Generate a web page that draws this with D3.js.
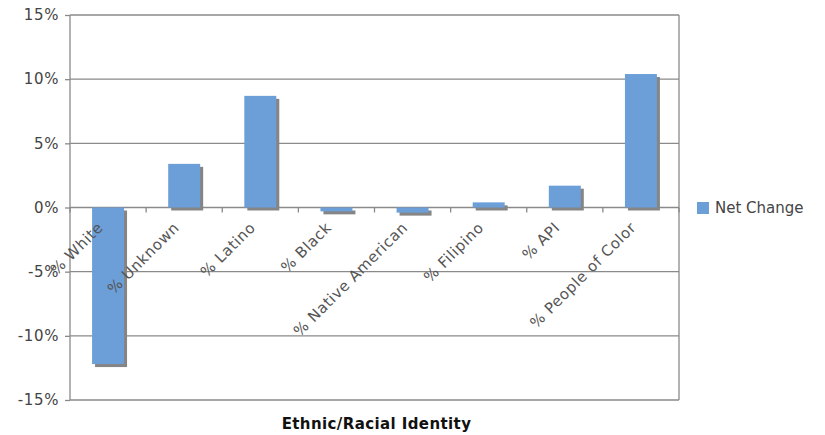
<!DOCTYPE html>
<html>
<head>
<meta charset="utf-8">
<script src="https://cdn.jsdelivr.net/npm/d3@7"></script>
<style>
  html, body { margin: 0; padding: 0; background: #fff; }
  svg { display: block; font-family: "DejaVu Sans", Verdana, sans-serif; }
</style>
</head>
<body>
<svg id="chart" width="825" height="435"></svg>
<script>
// Net change in share by ethnic/racial identity
const categories = ["% White", "% Unknown", "% Latino", "% Black", "% Native American", "% Filipino", "% API", "% People of Color"];
const netChange = [-12.2, 3.4, 8.7, -0.3, -0.4, 0.4, 1.7, 10.4];
const yTicks = [-15, -10, -5, 0, 5, 10, 15];
const seriesName = "Net Change";
const axisTitle = "Ethnic/Racial Identity";

const svg = d3.select("#chart");
const plot = { left: 70, right: 679, top: 15, bottom: 400 };

const x = d3.scaleBand().domain(categories).range([plot.left, plot.right]).padding(0);
const y = d3.scaleLinear().domain([-15, 15]).range([plot.bottom, plot.top]);

const gridColor = "#8a8a8a";
const textColor = "#444";
const barColor = "#6c9ed8";
const shadowColor = "#858585";

// horizontal gridlines
svg.append("g")
  .selectAll("line")
  .data(yTicks)
  .join("line")
  .attr("x1", plot.left).attr("x2", plot.right)
  .attr("y1", d => y(d)).attr("y2", d => y(d))
  .attr("stroke", gridColor).attr("stroke-width", 1.3);

// plot frame (left axis and right edge)
svg.append("line")
  .attr("x1", plot.left).attr("x2", plot.left)
  .attr("y1", plot.top).attr("y2", plot.bottom)
  .attr("stroke", gridColor).attr("stroke-width", 1.3);
svg.append("line")
  .attr("x1", plot.right).attr("x2", plot.right)
  .attr("y1", plot.top).attr("y2", plot.bottom)
  .attr("stroke", gridColor).attr("stroke-width", 1.3);

// y axis labels and tick marks
const yAxis = d3.axisLeft(y)
  .tickValues(yTicks)
  .tickSize(5)
  .tickPadding(6)
  .tickFormat(d => d + "%");
const gy = svg.append("g").attr("transform", `translate(${plot.left},0)`).call(yAxis);
gy.select(".domain").remove();
gy.selectAll(".tick line").attr("stroke", gridColor).attr("stroke-width", 1.3);
gy.selectAll(".tick text")
  .attr("fill", textColor)
  .style("font-size", "15px")
  .style("letter-spacing", "0.6px")
  .style("font-family", "DejaVu Sans, Verdana, sans-serif");

// category tick marks below the zero line
const boundaries = categories.map(c => x(c)).concat([plot.right]);
svg.append("g")
  .selectAll("line")
  .data(boundaries)
  .join("line")
  .attr("x1", d => d).attr("x2", d => d)
  .attr("y1", y(0)).attr("y2", y(0) + 5)
  .attr("stroke", gridColor).attr("stroke-width", 1.3);

// bars with drop shadow
const step = x.bandwidth();
const barW = step * 0.42;
const barX = c => x(c) + (step - barW) / 2;
const bars = svg.append("g");
bars.selectAll("rect.shadow")
  .data(categories)
  .join("rect")
  .attr("class", "shadow")
  .attr("x", c => barX(c) + 3)
  .attr("y", (c, i) => Math.min(y(netChange[i]), y(0)) + 3)
  .attr("width", barW)
  .attr("height", (c, i) => Math.abs(y(netChange[i]) - y(0)))
  .attr("fill", shadowColor);
bars.selectAll("rect.bar")
  .data(categories)
  .join("rect")
  .attr("class", "bar")
  .attr("x", c => barX(c))
  .attr("y", (c, i) => Math.min(y(netChange[i]), y(0)))
  .attr("width", barW)
  .attr("height", (c, i) => Math.abs(y(netChange[i]) - y(0)))
  .attr("fill", barColor);

// rotated category labels
svg.append("g")
  .selectAll("text")
  .data(categories)
  .join("text")
  .attr("transform", c => `translate(${x(c) + step / 2 - 4},${y(0) + 21}) rotate(-45)`)
  .attr("text-anchor", "end")
  .attr("fill", "#555")
  .style("font-size", "15px")
  .style("letter-spacing", "0.6px")
  .text(c => c);

// x axis title
svg.append("text")
  .attr("x", (plot.left + plot.right) / 2 + 2)
  .attr("y", 429)
  .attr("text-anchor", "middle")
  .attr("fill", "#111")
  .style("font-size", "15px")
  .style("font-weight", "bold")
  .style("letter-spacing", "0.4px")
  .text(axisTitle);

// legend
const lg = svg.append("g").attr("transform", "translate(697,202)");
lg.append("rect").attr("width", 12).attr("height", 12).attr("fill", barColor);
lg.append("text")
  .attr("x", 18).attr("y", 11)
  .attr("fill", textColor)
  .style("font-size", "15px")
  .text(seriesName);
</script>
</body>
</html>
